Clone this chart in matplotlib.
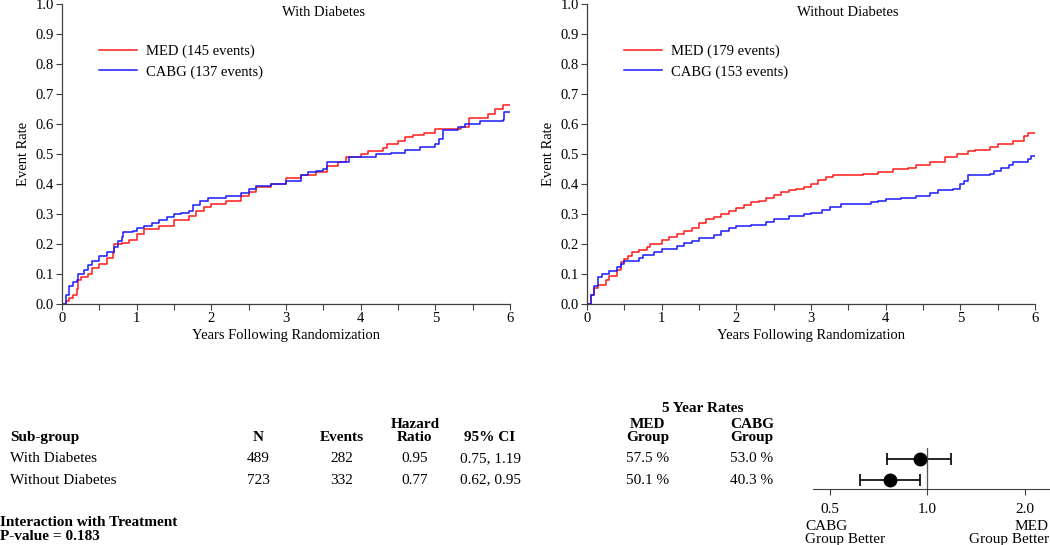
import numpy as np
import matplotlib
matplotlib.use("Agg")
import matplotlib.pyplot as plt
from matplotlib.ticker import MultipleLocator, FixedLocator, NullFormatter

plt.rcParams['font.family'] = ['Liberation Serif', 'DejaVu Serif']

# ---- data ----
# with diabetes
dm_med_t = [0, 0.05, 0.1, 0.15, 0.2, 0.22, 0.25, 0.35, 0.4, 0.5, 0.6, 0.68, 0.7, 0.8, 0.9, 1.0, 1.1,
            1.3, 1.5, 1.7, 1.8, 1.9, 2.0, 2.2, 2.4, 2.5, 2.6, 2.8, 3.0, 3.2, 3.4, 3.55, 3.7, 3.8,
            4.0, 4.1, 4.3, 4.35, 4.5, 4.6, 4.7, 4.85, 5.0, 5.35, 5.45, 5.7, 5.8, 5.9, 6.0]
dm_med_y = [0, 0.01, 0.02, 0.03, 0.05, 0.08, 0.09, 0.10, 0.12, 0.135, 0.155, 0.17, 0.20, 0.205, 0.215,
            0.235, 0.25, 0.26, 0.28, 0.295, 0.31, 0.325, 0.335, 0.345, 0.36, 0.375, 0.39, 0.40, 0.42,
            0.43, 0.44, 0.46, 0.475, 0.49, 0.50, 0.51, 0.52, 0.535, 0.545, 0.555, 0.565, 0.57, 0.585,
            0.59, 0.62, 0.635, 0.65, 0.665, 0.665]
dm_cabg_t = [0, 0.05, 0.1, 0.15, 0.2, 0.22, 0.3, 0.35, 0.4, 0.5, 0.6, 0.7, 0.75, 0.8, 0.82, 0.95, 1.0,
             1.1, 1.2, 1.3, 1.4, 1.5, 1.6, 1.7, 1.75, 1.85, 1.95, 2.2, 2.4, 2.5, 2.6, 2.8, 3.0, 3.2,
             3.3, 3.4, 3.5, 3.55, 3.8, 3.85, 4.2, 4.4, 4.6, 4.8, 5.0, 5.05, 5.1, 5.3, 5.4, 5.6, 5.9,
             5.92, 6.0]
dm_cabg_y = [0, 0.03, 0.06, 0.075, 0.08, 0.10, 0.115, 0.13, 0.145, 0.16, 0.175, 0.19, 0.21, 0.225,
             0.24, 0.245, 0.255, 0.26, 0.27, 0.28, 0.29, 0.30, 0.305, 0.31, 0.33, 0.345, 0.355, 0.36,
             0.37, 0.385, 0.395, 0.40, 0.41, 0.43, 0.44, 0.445, 0.45, 0.475, 0.475, 0.49, 0.50, 0.505,
             0.515, 0.525, 0.535, 0.55, 0.58, 0.59, 0.60, 0.61, 0.615, 0.64, 0.64]

# without diabetes
nd_med_t = [0, 0.05, 0.1, 0.15, 0.25, 0.3, 0.4, 0.45, 0.5, 0.55, 0.6, 0.7, 0.8, 0.85, 1.0, 1.1, 1.2,
            1.3, 1.4, 1.5, 1.6, 1.7, 1.8, 1.9, 2.0, 2.1, 2.2, 2.3, 2.4, 2.5, 2.6, 2.7, 2.8, 2.9, 3.0,
            3.1, 3.2, 3.3, 3.7, 3.9, 4.1, 4.3, 4.4, 4.6, 4.8, 4.95, 5.1, 5.2, 5.4, 5.5, 5.7, 5.85,
            5.9, 6.0]
nd_med_y = [0, 0.03, 0.055, 0.065, 0.08, 0.095, 0.115, 0.14, 0.15, 0.16, 0.175, 0.18, 0.19, 0.20,
            0.215, 0.225, 0.235, 0.245, 0.255, 0.27, 0.285, 0.29, 0.30, 0.31, 0.32, 0.33, 0.34, 0.345,
            0.355, 0.365, 0.375, 0.38, 0.385, 0.39, 0.40, 0.415, 0.425, 0.43, 0.435, 0.44, 0.45,
            0.455, 0.465, 0.475, 0.49, 0.50, 0.51, 0.515, 0.525, 0.535, 0.545, 0.56, 0.57, 0.57]
nd_cabg_t = [0, 0.05, 0.1, 0.15, 0.2, 0.3, 0.4, 0.45, 0.5, 0.7, 0.75, 0.9, 1.0, 1.2, 1.3, 1.4, 1.5,
             1.7, 1.8, 1.9, 2.0, 2.2, 2.4, 2.5, 2.7, 2.9, 3.0, 3.15, 3.25, 3.4, 3.8, 3.9, 4.0, 4.2,
             4.4, 4.6, 4.7, 4.9, 5.0, 5.05, 5.1, 5.4, 5.45, 5.55, 5.65, 5.7, 5.9, 5.95, 6.0]
nd_cabg_y = [0, 0.03, 0.06, 0.09, 0.10, 0.11, 0.125, 0.135, 0.145, 0.155, 0.165, 0.175, 0.185, 0.195,
             0.205, 0.21, 0.22, 0.23, 0.245, 0.255, 0.26, 0.265, 0.275, 0.285, 0.295, 0.30, 0.305,
             0.315, 0.325, 0.335, 0.34, 0.345, 0.35, 0.355, 0.36, 0.37, 0.38, 0.385, 0.40, 0.41, 0.43,
             0.435, 0.445, 0.455, 0.465, 0.475, 0.485, 0.495, 0.495]

panel_titles = ["With Diabetes", "Without Diabetes"]
med_labels = ["MED (145 events)", "MED (179 events)"]
cabg_labels = ["CABG (137 events)", "CABG (153 events)"]

# table
subgroups = ["With Diabetes", "Without Diabetes"]
n_pts = [489, 723]
events = [282, 332]
hr = [0.95, 0.77]
ci_lo = [0.75, 0.62]
ci_hi = [1.19, 0.95]
med_5yr = [57.5, 50.1]
cabg_5yr = [53.0, 40.3]
p_interaction = 0.183

W, H = 1050, 545
fig = plt.figure(figsize=(W / 100, H / 100), dpi=100)


def px_axes(x0, y0, x1, y1):
    # pixel box (top-left origin) -> figure axes
    return fig.add_axes([x0 / W, 1 - y1 / H, (x1 - x0) / W, (y1 - y0) / H])


red = '#ff1a1a'
blue = '#1a1aff'
spine_col = '#404040'

curves = [(dm_med_t, dm_med_y, dm_cabg_t, dm_cabg_y),
          (nd_med_t, nd_med_y, nd_cabg_t, nd_cabg_y)]
lefts = [62, 587]

for i, (mt, my, ct, cy) in enumerate(curves):
    ax = px_axes(lefts[i], 4, lefts[i] + 448, 304)
    ax.step(mt, my, where='post', color=red, lw=1.1, label=med_labels[i])
    ax.step(ct, cy, where='post', color=blue, lw=1.1, label=cabg_labels[i])
    ax.set_xlim(0, 6)
    ax.set_ylim(0, 1.0)
    ax.xaxis.set_major_locator(MultipleLocator(1))
    ax.xaxis.set_minor_locator(MultipleLocator(0.5))
    ax.yaxis.set_major_locator(MultipleLocator(0.1))
    ax.yaxis.set_major_formatter(plt.FuncFormatter(lambda v, p: '%.1f' % v))
    ax.xaxis.set_major_formatter(plt.FuncFormatter(lambda v, p: '%d' % v))
    for s in ['top', 'right']:
        ax.spines[s].set_visible(False)
    for s in ['left', 'bottom']:
        ax.spines[s].set_color(spine_col)
        ax.spines[s].set_linewidth(0.9)
    ax.tick_params(which='both', direction='out', length=4, width=0.8, color=spine_col,
                   labelsize=10.5, pad=2)
    ax.set_xlabel("Years Following Randomization", fontsize=10.5, labelpad=3)
    ax.set_ylabel("Event Rate", fontsize=10.5, labelpad=4)
    ax.text(0.583, 0.97, panel_titles[i], transform=ax.transAxes, ha='center', va='center',
            fontsize=10.5)
    ax.legend(loc='upper left', bbox_to_anchor=(0.083, 0.865), frameon=False, fontsize=10.5,
              handlelength=2.6, handletextpad=0.6, labelspacing=0.5, borderaxespad=0,
              borderpad=0)

# ---- table ----
fs = 11
fig.text(10 / W, 1 - 437 / H, "Sub-group", fontsize=fs, fontweight='bold', va='center')
col_x = [258, 342, 415, 490, 648, 752]
heads = ["N", "Events", "Hazard\nRatio", "95% CI", "MED\nGroup", "CABG\nGroup"]
for x, h in zip(col_x, heads):
    fig.text(x / W, 1 - 444 / H, h, fontsize=fs, fontweight='bold', ha='center', va='bottom',
             linespacing=0.95)
fig.text(703 / W, 1 - 409 / H, "5 Year Rates", fontsize=fs, fontweight='bold', ha='center',
         va='center')

row_y = [459, 480]
for j in range(len(subgroups)):
    vals = [str(n_pts[j]), str(events[j]), '%.2f' % hr[j], '%.2f, %.2f' % (ci_lo[j], ci_hi[j]),
            '%.1f %%' % med_5yr[j], '%.1f %%' % cabg_5yr[j]]
    fig.text(10 / W, 1 - row_y[j] / H, subgroups[j], fontsize=fs, va='center')
    for x, v in zip(col_x, vals):
        fig.text(x / W, 1 - row_y[j] / H, v, fontsize=fs, ha='center', va='center')

fig.text(0, 1 - 522 / H, "Interaction with Treatment", fontsize=fs, fontweight='bold',
         va='center')
fig.text(0, 1 - 536 / H, "P-value = %.3f" % p_interaction, fontsize=fs, fontweight='bold',
         va='center')

# ---- forest plot ----
fx = px_axes(813, 448, 1050, 489)
fx.set_xscale('log')
lo_lim = 2 ** ((813 - 927) / 97.5)
hi_lim = 2 ** ((1050 - 927) / 97.5)
fx.set_xlim(lo_lim, hi_lim)
fx.set_ylim(2.43, 0.476)
rows = np.arange(1, len(hr) + 1)
xerr = [np.array(hr) - np.array(ci_lo), np.array(ci_hi) - np.array(hr)]
fx.errorbar(hr, rows, xerr=xerr, fmt='o', color='black', ms=9, capsize=4, elinewidth=1.2,
            capthick=1.2)
fx.axvline(1.0, color='#555555', lw=0.9)
fx.xaxis.set_major_locator(FixedLocator([0.5, 1.0, 2.0]))
fx.xaxis.set_minor_locator(FixedLocator([]))
fx.xaxis.set_minor_formatter(NullFormatter())
fx.xaxis.set_major_formatter(plt.FuncFormatter(lambda v, p: '%.1f' % v))
fx.set_yticks([])
for s in ['top', 'right', 'left']:
    fx.spines[s].set_visible(False)
fx.spines['bottom'].set_color(spine_col)
fx.tick_params(axis='x', direction='out', length=4, color=spine_col, labelsize=fs, pad=6)
fx.patch.set_alpha(0)

fig.text(805 / W, 1 - 520 / H, "CABG\nGroup Better", fontsize=fs, ha='left', va='top',
         linespacing=0.95)
fig.text(1049 / W, 1 - 520 / H, "MED\nGroup Better", fontsize=fs, ha='right', va='top',
         linespacing=0.95)

fig.savefig("out.png", dpi=100)
